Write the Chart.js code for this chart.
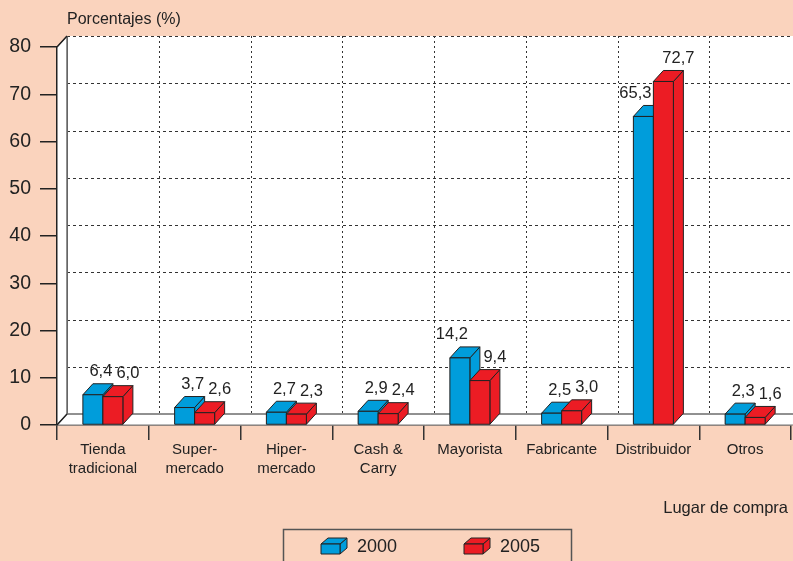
<!DOCTYPE html>
<html>
<head>
<meta charset="utf-8">
<script src="https://cdn.jsdelivr.net/npm/chart.js@4"></script>
<style>
  html, body { margin: 0; padding: 0; background: #fad3bd; }
  #wrap { width: 793px; height: 561px; }
</style>
</head>
<body>
<div id="wrap"><canvas id="chart" width="793" height="561"></canvas></div>
<script>
const CATEGORIAS   = [['Tienda', 'tradicional'], ['Super-', 'mercado'], ['Hiper-', 'mercado'], ['Cash &', 'Carry'],
                      'Mayorista', 'Fabricante', 'Distribuidor', 'Otros'];
const SERIES       = ['2000', '2005'];
const VALORES_2000 = [6.4, 3.7, 2.7, 2.9, 14.2, 2.5, 65.3, 2.3];
const VALORES_2005 = [6.0, 2.6, 2.3, 2.4, 9.4, 3.0, 72.7, 1.6];
const Y_MIN = 0, Y_MAX = 80, Y_STEP = 10;

const AZUL  = '#009ddb';
const ROJO  = '#ec1c24';
const LINEA = '#222';
const FONT  = '"Liberation Sans", Arial, sans-serif';
const DX = 10, DY = 11;   // profundidad 3D

function poly(ctx, pts, fill) {
    ctx.beginPath();
    ctx.moveTo(pts[0][0], pts[0][1]);
    for (let i = 1; i < pts.length; i++) ctx.lineTo(pts[i][0], pts[i][1]);
    ctx.closePath();
    ctx.fillStyle = fill;
    ctx.fill();
    ctx.stroke();
}

const fmt = v => v.toFixed(1).replace('.', ',');

// paredes, suelo y rejilla de fondo
const fondo3d = {
    id: 'fondo3d',
    beforeDatasetsDraw(chart) {
        const { ctx, chartArea: a, scales: { x, y } } = chart;
        const right = chart.width + 20;
        ctx.save();
        ctx.strokeStyle = LINEA;
        ctx.lineWidth = 1;
        ctx.fillStyle = '#fff';
        // pared del fondo
        ctx.fillRect(a.left + DX, a.top - DY, right, a.bottom - a.top);
        // pared izquierda y suelo
        poly(ctx, [[a.left, a.top], [a.left + DX, a.top - DY], [a.left + DX, a.bottom - DY], [a.left, a.bottom]], '#fff');
        ctx.strokeStyle = '#777';
        poly(ctx, [[a.left, a.bottom], [a.left + DX, a.bottom - DY], [right, a.bottom - DY], [right, a.bottom]], '#fff');

        // líneas horizontales discontinuas
        ctx.setLineDash([3, 3]);
        ctx.strokeStyle = '#333';
        for (let v = Y_MIN + Y_STEP; v <= Y_MAX; v += Y_STEP) {
            const py = Math.round(y.getPixelForValue(v) - DY) + 0.5;
            ctx.beginPath(); ctx.moveTo(a.left + DX, py); ctx.lineTo(right, py); ctx.stroke();
        }
        // líneas verticales punteadas
        ctx.setLineDash([2, 3]);
        for (let i = 1; i <= CATEGORIAS.length; i++) {
            const px = Math.round((x.getPixelForValue(i - 1) + x.getPixelForValue(i)) / 2 + DX) + 0.5;
            ctx.beginPath(); ctx.moveTo(px, a.top - DY); ctx.lineTo(px, a.bottom - DY); ctx.stroke();
        }
        ctx.setLineDash([]);
        ctx.strokeStyle = '#666';
        ctx.beginPath();
        ctx.moveTo(a.left + DX, a.bottom - DY); ctx.lineTo(right, a.bottom - DY);
        ctx.moveTo(a.left + DX + 0.5, a.top - DY); ctx.lineTo(a.left + DX + 0.5, a.bottom - DY);
        ctx.stroke();
        ctx.restore();
    }
};

// barras en 3D, etiquetas, textos y leyenda
const barras3d = {
    id: 'barras3d',
    afterDatasetsDraw(chart) {
        const { ctx } = chart;
        const metas = chart.data.datasets.map((_, i) => chart.getDatasetMeta(i));
        ctx.save();
        ctx.strokeStyle = LINEA;
        ctx.lineWidth = 1;
        for (let j = 0; j < CATEGORIAS.length; j++) {
            metas.forEach((meta, i) => {
                const el = meta.data[j];
                const { x, y, base, width } = el.getProps(['x', 'y', 'base', 'width'], true);
                const l = x - width / 2, r = x + width / 2;
                const c = chart.data.datasets[i].backgroundColor;
                poly(ctx, [[r, y], [r + DX, y - DY], [r + DX, base - DY], [r, base]], c);
                poly(ctx, [[l, y], [l + DX, y - DY], [r + DX, y - DY], [r, y]], c);
                poly(ctx, [[l, y], [r, y], [r, base], [l, base]], c);
            });
        }
        // etiquetas de valor
        ctx.fillStyle = '#222';
        ctx.font = '16.5px ' + FONT;
        ctx.textAlign = 'center';
        ctx.textBaseline = 'middle';
        for (let j = 0; j < CATEGORIAS.length; j++) {
            const v0 = chart.data.datasets[0].data[j], v1 = chart.data.datasets[1].data[j];
            metas.forEach((meta, i) => {
                const el = meta.data[j];
                const v = chart.data.datasets[i].data[j];
                let off = i === 0 ? (Math.abs(v0 - v1) > 3 ? -13 : 3) : 10;
                ctx.fillText(fmt(v), el.x + DX / 2 + off, el.y - DY - 12);
            });
        }
        ctx.restore();
    },
    afterDraw(chart) {
        const { ctx, chartArea: a } = chart;
        ctx.save();
        ctx.strokeStyle = LINEA;
        ctx.lineWidth = 1.5;
        // aristas de la pared izquierda
        ctx.beginPath();
        ctx.moveTo(a.left, a.top); ctx.lineTo(a.left + DX, a.top - DY);
        ctx.moveTo(a.left, a.bottom); ctx.lineTo(a.left + DX, a.bottom - DY);
        ctx.stroke();

        ctx.fillStyle = '#222';
        ctx.font = '16px ' + FONT;
        ctx.textBaseline = 'middle';
        ctx.textAlign = 'left';
        ctx.fillText('Porcentajes (%)', 67, 20);
        ctx.textAlign = 'right';
        ctx.font = '16.5px ' + FONT;
        ctx.fillText('Lugar de compra', 788, 508);

        // leyenda
        ctx.lineWidth = 1.5;
        ctx.strokeStyle = '#555';
        ctx.strokeRect(283.5, 529.5, 288, 40);
        ctx.lineWidth = 1;
        ctx.strokeStyle = LINEA;
        const pos = [321, 464];
        chart.data.datasets.forEach((ds, i) => {
            const l = pos[i], r = l + 19, t = 544, b = 554;
            poly(ctx, [[r, t], [r + 7, t - 6], [r + 7, b - 6], [r, b]], ds.backgroundColor);
            poly(ctx, [[l, t], [l + 7, t - 6], [r + 7, t - 6], [r, t]], ds.backgroundColor);
            poly(ctx, [[l, t], [r, t], [r, b], [l, b]], ds.backgroundColor);
            ctx.fillStyle = '#222';
            ctx.font = '18px ' + FONT;
            ctx.textAlign = 'left';
            ctx.fillText(ds.label, r + 17, 547);
        });
        ctx.restore();
    }
};

new Chart(document.getElementById('chart'), {
    type: 'bar',
    data: {
        labels: CATEGORIAS,
        datasets: [
            { label: SERIES[0], data: VALORES_2000, backgroundColor: AZUL, borderColor: LINEA, borderWidth: 1 },
            { label: SERIES[1], data: VALORES_2005, backgroundColor: ROJO, borderColor: LINEA, borderWidth: 1 },
        ],
    },
    options: {
        responsive: false,
        animation: false,
        categoryPercentage: 40 / 91.75,
        barPercentage: 1,
        layout: { padding: { top: 47, right: 2, bottom: 66, left: 0 } },
        plugins: { legend: { display: false }, tooltip: { enabled: false } },
        scales: {
            x: {
                offset: true,
                afterFit: s => { s.height = 70; },
                grid: { offset: true, drawOnChartArea: false, drawTicks: true, tickLength: 15, color: '#333', lineWidth: 1.5 },
                border: { display: true, color: '#555', width: 1.5 },
                ticks: { color: '#222', font: { family: FONT, size: 15, lineHeight: 1.3 }, padding: 0, maxRotation: 0, autoSkip: false },
            },
            y: {
                min: Y_MIN, max: Y_MAX,
                afterFit: s => { s.width = 57; },
                grid: { drawOnChartArea: false, drawTicks: true, tickLength: 17, color: LINEA, lineWidth: 1.5 },
                border: { display: true, color: LINEA, width: 1.5 },
                ticks: { stepSize: Y_STEP, color: '#222', font: { family: FONT, size: 19.5 }, padding: 9 },
            },
        },
    },
    plugins: [fondo3d, barras3d],
});
</script>
</body>
</html>
